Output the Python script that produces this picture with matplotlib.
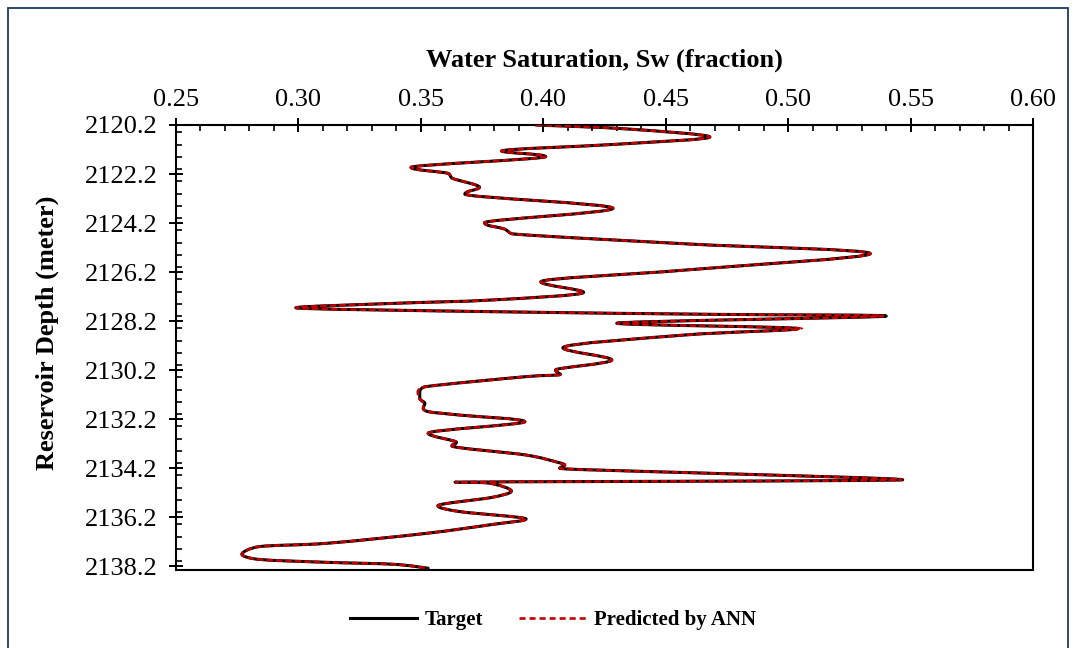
import numpy as np
import matplotlib
matplotlib.use("Agg")
import matplotlib.pyplot as plt
from matplotlib.path import Path
from matplotlib.patches import PathPatch, Rectangle
from matplotlib.lines import Line2D
from matplotlib.ticker import MultipleLocator, FormatStrFormatter

plt.rcParams["font.family"] = ["Liberation Serif", "DejaVu Serif"]

# Depth (m) and water saturation (fraction) along the well
depth = [2120.20, 2120.36, 2120.69, 2120.98, 2121.26, 2121.49, 2121.93, 2122.17,
         2122.38, 2122.74, 2123.02, 2123.60, 2124.19, 2124.44, 2124.65, 2125.06,
         2125.45, 2126.12, 2126.60, 2127.03, 2127.34, 2127.48, 2127.66, 2127.82,
         2127.93, 2128.00, 2128.29, 2128.51, 2128.77, 2129.29, 2129.79, 2130.20,
         2130.38, 2130.47, 2130.88, 2131.09, 2131.36, 2131.56, 2131.76, 2131.90,
         2132.04, 2132.31, 2132.78, 2133.15, 2133.30, 2133.67, 2133.97, 2134.08,
         2134.21, 2134.35, 2134.44, 2134.68, 2134.78, 2134.82, 2135.14, 2135.40,
         2135.74, 2135.98, 2136.28, 2136.50, 2136.87, 2137.27, 2137.41, 2137.72,
         2137.93, 2138.05, 2138.13, 2138.29]

sw_target = [0.397, 0.434, 0.468, 0.431, 0.383, 0.401, 0.346, 0.361,
             0.363, 0.374, 0.368, 0.4285, 0.376, 0.384, 0.388, 0.460,
             0.5335, 0.458, 0.399, 0.4165, 0.3795, 0.339, 0.299, 0.3795,
             0.472, 0.540, 0.430, 0.504, 0.458, 0.408, 0.428, 0.405,
             0.407, 0.393, 0.352, 0.3496, 0.3496, 0.3517, 0.351, 0.353,
             0.366, 0.3925, 0.353, 0.3646, 0.3627, 0.393, 0.406, 0.4088,
             0.4067, 0.445, 0.477, 0.5467, 0.364, 0.378, 0.387, 0.379,
             0.357, 0.366, 0.393, 0.3795, 0.352, 0.312, 0.284, 0.277,
             0.284, 0.312, 0.339, 0.353]

sw_predicted = [0.397, 0.434, 0.468, 0.431, 0.383, 0.401, 0.346, 0.361,
                0.363, 0.374, 0.368, 0.4285, 0.376, 0.384, 0.388, 0.460,
                0.5335, 0.458, 0.399, 0.4165, 0.3795, 0.339, 0.299, 0.3795,
                0.472, 0.539, 0.430, 0.505, 0.458, 0.408, 0.428, 0.405,
                0.407, 0.393, 0.352, 0.3488, 0.3494, 0.3512, 0.351, 0.353,
                0.366, 0.3925, 0.353, 0.3646, 0.3627, 0.393, 0.406, 0.4088,
                0.4067, 0.445, 0.477, 0.5465, 0.364, 0.378, 0.387, 0.379,
                0.357, 0.366, 0.393, 0.3795, 0.352, 0.312, 0.284, 0.277,
                0.284, 0.312, 0.339, 0.353]

x_ticks = [0.25, 0.30, 0.35, 0.40, 0.45, 0.50, 0.55, 0.60]
y_ticks = [2120.2, 2122.2, 2124.2, 2126.2, 2128.2, 2130.2, 2132.2, 2134.2, 2136.2, 2138.2]

XLIM = (0.25, 0.60)
YLIM = (2138.375, 2120.2)


def smooth_path(xs, ys, xscale, yscale):
    """Smoothed cubic Bezier path passing through every point."""
    P = np.column_stack([np.asarray(xs, float) * xscale,
                         np.asarray(ys, float) * yscale])
    n = len(P)
    D = np.zeros_like(P)
    for i in range(n):
        p0 = P[max(i - 1, 0)]
        p2 = P[min(i + 1, n - 1)]
        d = (p2 - p0) / 6.0
        # turning points in saturation get a vertical tangent (no overshoot)
        if 0 < i < n - 1 and (P[i, 0] - p0[0]) * (p2[0] - P[i, 0]) <= 0:
            d[0] = 0.0
        D[i] = d
    verts = [P[0]]
    codes = [Path.MOVETO]
    for i in range(n - 1):
        p1, p2 = P[i], P[i + 1]
        seg = np.hypot(*(p2 - p1))
        d1, d2 = D[i].copy(), D[i + 1].copy()
        for d in (d1, d2):
            ln = np.hypot(*d)
            if ln > seg * 0.5 and ln > 0:
                d *= seg * 0.5 / ln
        verts += [p1 + d1, p2 - d2, p2]
        codes += [Path.CURVE4] * 3
    verts = np.array(verts)
    verts[:, 0] /= xscale
    verts[:, 1] /= yscale
    return Path(verts, codes)


fig = plt.figure(figsize=(10.76, 6.48), dpi=100)
ax = fig.add_axes([0.1633, 0.1199, 0.9603 - 0.1633, 0.8071 - 0.1199])

xscale = 857.0 / (XLIM[1] - XLIM[0])
yscale = 445.0 / (YLIM[0] - YLIM[1])

target_path = smooth_path(sw_target, depth, xscale, yscale)
pred_path = smooth_path(sw_predicted, depth, xscale, yscale)

ax.add_patch(PathPatch(target_path, fill=False, edgecolor="black", lw=2.2,
                       capstyle="round", joinstyle="round", zorder=3))
ax.add_patch(PathPatch(pred_path, fill=False, edgecolor="#C00000", lw=1.9,
                       linestyle=(0, (2.6, 1.0)), zorder=4))

ax.set_xlim(*XLIM)
ax.set_ylim(*YLIM)

ax.xaxis.tick_top()
ax.xaxis.set_label_position("top")
ax.set_xticks(x_ticks)
ax.xaxis.set_major_formatter(FormatStrFormatter("%.2f"))
ax.xaxis.set_minor_locator(MultipleLocator(0.01))
ax.set_yticks(y_ticks)
ax.yaxis.set_major_formatter(FormatStrFormatter("%.1f"))
ax.yaxis.set_minor_locator(MultipleLocator(0.5))

ax.tick_params(axis="both", which="major", direction="inout", length=10,
               width=1.4, labelsize=19, color="black")
ax.tick_params(axis="x", which="major", pad=5)
ax.tick_params(axis="y", which="major", pad=8)
ax.tick_params(axis="both", which="minor", direction="in", length=4.5,
               width=1.2, color="black")
ax.tick_params(axis="x", which="both", top=True, bottom=False)
ax.tick_params(axis="y", which="both", left=True, right=False)

for s in ax.spines.values():
    s.set_linewidth(1.5)
    s.set_color("black")

ax.set_xlabel("Water Saturation, Sw (fraction)", fontsize=19,
              fontweight="bold", labelpad=16)
fig.text(47 / 1076, 1 - 333 / 648, "Reservoir Depth (meter)", rotation=90,
         ha="center", va="center", fontsize=19, fontweight="bold")

handles = [Line2D([], [], color="black", lw=2.2),
           Line2D([], [], color="#C00000", lw=1.9, linestyle=(0, (2.3, 1.5)))]
fig.legend(handles, ["Target", "Predicted by ANN"], loc="center",
           bbox_to_anchor=(553 / 1076, 1 - 620 / 648), ncol=2, frameon=False,
           prop={"family": "Liberation Serif", "weight": "bold", "size": 15},
           handlelength=3.2, handletextpad=0.4, columnspacing=1.7)

fig.patches.append(Rectangle((8 / 1076, -0.02), 1060 / 1076, 1.02 - 8 / 648,
                             transform=fig.transFigure, fill=False,
                             edgecolor="#1F3864", lw=1.3))

fig.savefig("out.png", dpi=100)
